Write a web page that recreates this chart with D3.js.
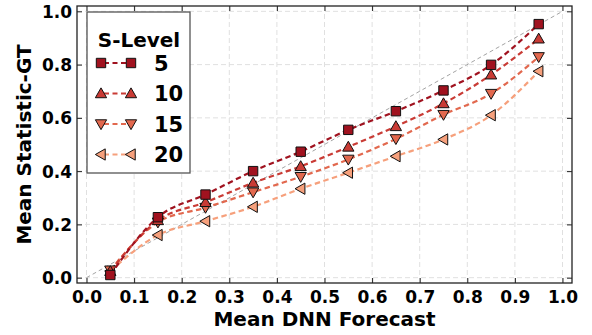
<!DOCTYPE html>
<html>
<meta charset="utf-8">
<style>
body { margin: 0; background: #fff; }
text { font-family: "DejaVu Sans", sans-serif; font-weight: bold; }
</style>
<body>
<script src="https://d3js.org/d3.v7.min.js"></script>
<script>
// data
var xs = [0.05, 0.15, 0.25, 0.35, 0.45, 0.55, 0.65, 0.75, 0.85, 0.95];
var levels = ["5", "10", "15", "20"];
var s5  = [0.010, 0.227, 0.312, 0.400, 0.473, 0.555, 0.625, 0.703, 0.799, 0.952];
var s10 = [0.024, 0.215, 0.283, 0.356, 0.418, 0.491, 0.568, 0.654, 0.762, 0.897];
var s15 = [0.028, 0.208, 0.263, 0.321, 0.379, 0.444, 0.521, 0.612, 0.691, 0.829];
var s20 = [0.025, 0.160, 0.212, 0.266, 0.334, 0.394, 0.456, 0.519, 0.610, 0.775];
var xTicks = [0, 0.1, 0.2, 0.3, 0.4, 0.5, 0.6, 0.7, 0.8, 0.9, 1.0];
var yTicks = [0, 0.2, 0.4, 0.6, 0.8, 1.0];

var series = [s5, s10, s15, s20];
var colors = ["#a0121f", "#c93b35", "#e2684e", "#f6a07c"];
var shapes = ["square", "up", "down", "left"];

var W = 592, H = 335;
var margin = {top: 6, right: 20, bottom: 52, left: 77};
var width = 495, height = 277;

var svg = d3.select("body").append("svg")
    .attr("width", W).attr("height", H);
var g = svg.append("g")
    .attr("transform", "translate(" + margin.left + "," + margin.top + ")");

var x = d3.scaleLinear().domain([-0.02, 1.02]).range([0, width]);
var y = d3.scaleLinear().domain([-0.02, 1.02]).range([height, 0]);

// grid
g.selectAll(".gx").data(xTicks).enter().append("line")
    .attr("x1", d => x(d)).attr("x2", d => x(d))
    .attr("y1", 0).attr("y2", height)
    .attr("stroke", "#e0e0e0").attr("stroke-dasharray", "5,3").attr("stroke-width", 1);
g.selectAll(".gy").data(yTicks).enter().append("line")
    .attr("y1", d => y(d)).attr("y2", d => y(d))
    .attr("x1", 0).attr("x2", width)
    .attr("stroke", "#e0e0e0").attr("stroke-dasharray", "5,3").attr("stroke-width", 1);

// diagonal reference
g.append("line")
    .attr("x1", x(0)).attr("y1", y(0)).attr("x2", x(1)).attr("y2", y(1))
    .attr("stroke", "#999").attr("stroke-width", 0.9).attr("stroke-dasharray", "4,3");

// axes (inward ticks, all sides)
var xAxis = g.append("g").attr("transform", "translate(0," + height + ")")
    .call(d3.axisBottom(x).tickValues(xTicks).tickFormat(d3.format(".1f")).tickSizeInner(-5).tickSizeOuter(0).tickPadding(8));
var yAxis = g.append("g")
    .call(d3.axisLeft(y).tickValues(yTicks).tickFormat(d3.format(".1f")).tickSizeInner(-5).tickSizeOuter(0).tickPadding(5));
g.append("g").call(d3.axisTop(x).tickValues(xTicks).tickFormat("").tickSizeInner(-5).tickSizeOuter(0));
g.append("g").attr("transform", "translate(" + width + ",0)")
    .call(d3.axisRight(y).tickValues(yTicks).tickFormat("").tickSizeInner(-5).tickSizeOuter(0));
g.selectAll(".domain").remove();
g.selectAll(".tick line").attr("stroke", "#222");
xAxis.selectAll("text").style("font-size", "17px").attr("fill", "#000");
yAxis.selectAll("text").style("font-size", "17px").attr("fill", "#000").attr("dy", "0.36em");

g.append("rect").attr("width", width).attr("height", height)
    .attr("fill", "none").attr("stroke", "#222").attr("stroke-width", 1.3);

// marker shapes
function markerPath(shape, s) {
  if (shape === "square") return "M" + (-s) + "," + (-s) + "H" + s + "V" + s + "H" + (-s) + "Z";
  var r = s * 1.2;
  if (shape === "up") return "M0," + (-r) + "L" + r + "," + (r * 0.75) + "L" + (-r) + "," + (r * 0.75) + "Z";
  if (shape === "down") return "M0," + r + "L" + r + "," + (-r * 0.75) + "L" + (-r) + "," + (-r * 0.75) + "Z";
  return "M" + (-r) + ",0L" + (r * 0.75) + "," + (-r) + "L" + (r * 0.75) + "," + r + "Z";
}

var line = d3.line().x((d, i) => x(xs[i])).y(d => y(d)).curve(d3.curveMonotoneX);

// draw lightest first so darkest is on top
for (var k = series.length - 1; k >= 0; k--) {
  var sg = g.append("g");
  sg.append("path").datum(series[k])
      .attr("d", line).attr("fill", "none")
      .attr("stroke", colors[k]).attr("stroke-width", 2.2).attr("stroke-dasharray", "5.5,3.5");
  sg.selectAll("path.m").data(series[k]).enter().append("path")
      .attr("class", "m")
      .attr("transform", (d, i) => "translate(" + x(xs[i]) + "," + y(d) + ")")
      .attr("d", markerPath(shapes[k], 4.7))
      .attr("fill", colors[k]).attr("stroke", "#111").attr("stroke-width", 1);
}

// legend
var lg = g.append("g").attr("transform", "translate(10,6)");
lg.append("rect").attr("width", 103).attr("height", 161)
    .attr("fill", "#fff").attr("stroke", "#555").attr("stroke-width", 1.3);
lg.append("text").attr("x", 52).attr("y", 35).attr("text-anchor", "middle")
    .style("font-size", "20px").text("S-Level");
levels.forEach(function(lv, k) {
  var ly = 51 + k * 30.5;
  lg.append("line").attr("x1", 14).attr("x2", 44).attr("y1", ly).attr("y2", ly)
      .attr("stroke", colors[k]).attr("stroke-width", 2.2).attr("stroke-dasharray", "5,3.5")
      .attr("stroke-dashoffset", -3);
  [14, 44].forEach(function(mx) {
    lg.append("path").attr("transform", "translate(" + mx + "," + ly + ")")
        .attr("d", markerPath(shapes[k], 4.7))
        .attr("fill", colors[k]).attr("stroke", "#111").attr("stroke-width", 1);
  });
  lg.append("text").attr("x", 67).attr("y", ly).attr("dy", "0.36em")
      .style("font-size", "21px").text(lv);
});

// axis titles
svg.append("text").attr("x", margin.left + width / 2).attr("y", 326)
    .attr("text-anchor", "middle").style("font-size", "20px").text("Mean DNN Forecast");
svg.append("text").attr("transform", "translate(31," + (margin.top + height / 2) + ") rotate(-90)")
    .attr("text-anchor", "middle").style("font-size", "20px").text("Mean Statistic-GT");
</script>
</body>
</html>
